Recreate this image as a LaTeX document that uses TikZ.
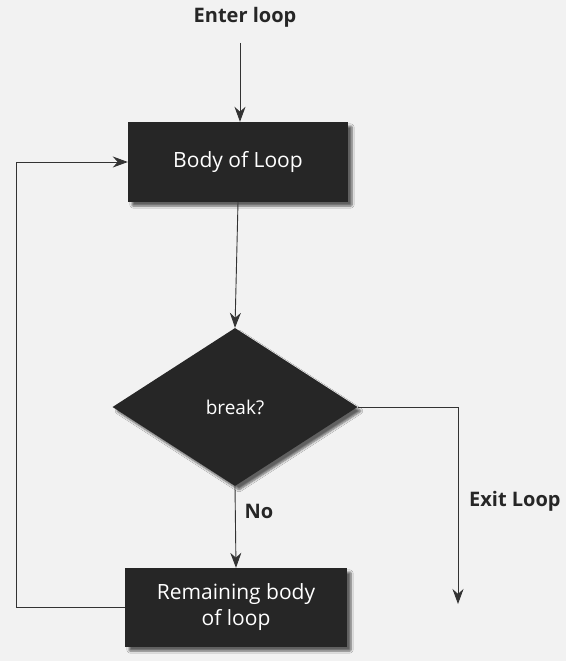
\documentclass[tikz,border=0pt]{standalone}
\usepackage{fontspec}
\setmainfont{Open Sans}
\usetikzlibrary{shapes.geometric,arrows.meta,shadows.blur}
\begin{document}
\begin{tikzpicture}[x=1pt,y=-1pt,
  line/.style={draw=black!80,line width=0.9pt},
  arr/.style={line,-{Stealth[length=15pt,width=11pt]}},
  boxnode/.style={fill=black!85,text=white,font=\fontsize{21}{26}\selectfont,align=center,inner sep=0pt,
    blur shadow={shadow xshift=4pt,shadow yshift=-4pt,shadow blur steps=6,shadow blur extra rounding=1pt,shadow opacity=60}},
  lbl/.style={font=\fontsize{20}{24}\selectfont\bfseries,text=black!85,inner sep=0pt}
]
\fill[black!5] (0,0) rectangle (566,661);
\useasboundingbox (0,0) rectangle (566,661);
\node[lbl] (enter) at (245,17) {Enter loop};
\coordinate (entstart) at (240,43);
\node[boxnode,minimum width=220pt,minimum height=80pt] (body) at (238,162) {Body of Loop};
\node[boxnode,shape=diamond,minimum width=245pt,minimum height=158pt,font=\fontsize{19}{23}\selectfont] (brk) at (235,407) {break?};
\node[boxnode,minimum width=222pt,minimum height=79pt] (rem) at (236,607.5) {Remaining body\\of loop};
\node[lbl,anchor=west] (exitl) at (469,501) {Exit Loop};
\node[lbl] (no) at (259,511) {No};
\coordinate (exitcorner) at (458,407);
\coordinate (exitend) at (458,604);
\coordinate (loopbot) at (16,607.5);
\coordinate (looptop) at (16,162);
\draw[arr] (entstart) -- (entstart |- body.north);
\draw[arr] (body.south) -- (brk.north);
\draw[arr] (brk.south) -- (rem.north);
\draw[arr] (brk.east) -- (exitcorner) -- (exitend);
\draw[arr] (rem.west) -- (loopbot) -- (looptop) -- (body.west |- looptop);
\end{tikzpicture}
\end{document}
